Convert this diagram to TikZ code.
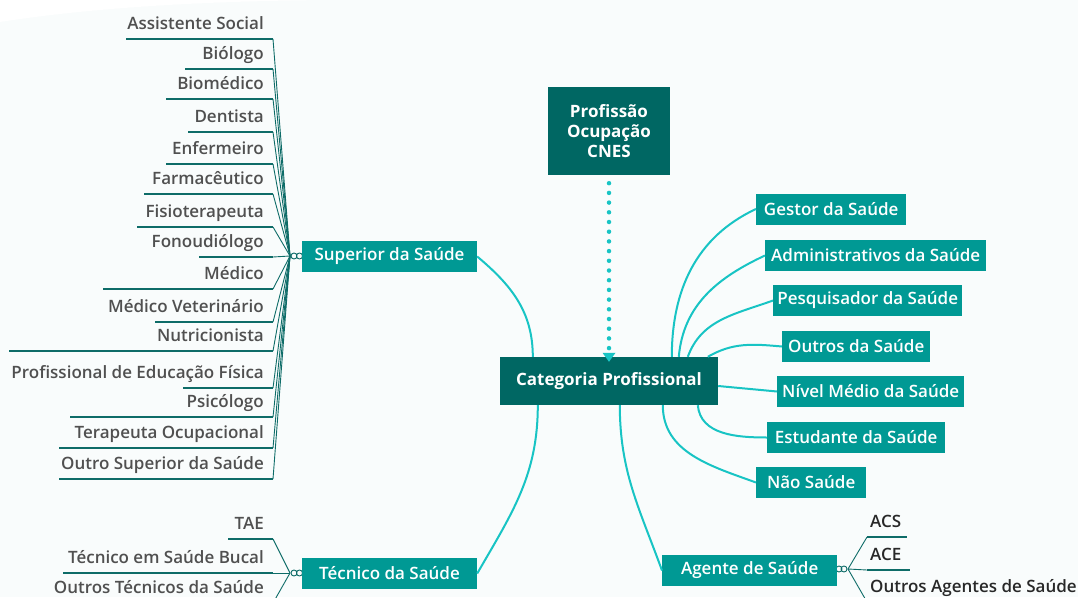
\documentclass[tikz,border=0pt]{standalone}
\usepackage{fontspec}
\setmainfont{Open Sans}
\IfFontExistsTF{Open Sans Semibold}
  {\newfontfamily\semib{Open Sans Semibold}}
  {\IfFontExistsTF{Open Sans SemiBold}
    {\newfontfamily\semib{Open Sans SemiBold}}
    {\newfontfamily\semib{Open Sans}}}
\usepackage{tikz}
\usetikzlibrary{arrows.meta}
\definecolor{bg}{RGB}{249, 252, 252}
\definecolor{deep}{RGB}{0, 103, 99}
\definecolor{box}{RGB}{0, 153, 148}
\definecolor{wirec}{RGB}{24, 196, 196}
\definecolor{twigc}{RGB}{14, 108, 104}
\definecolor{ink}{RGB}{80, 80, 80}
\definecolor{inkdark}{RGB}{40, 40, 40}
\newcommand{\labelfont}{\semib\fontsize{17}{20}\selectfont}

\begin{document}
\begin{tikzpicture}[x=1pt, y=1pt,
  hub/.style={fill=deep, text=white, font=\bfseries\fontsize{17}{20}\selectfont,
    align=center, inner sep=0pt},
  cat/.style={fill=box, text=white, font=\labelfont, inner sep=0pt,
    minimum height=31pt, minimum width=#1},
  leaf/.style={text=ink, font=\labelfont, inner sep=0pt},
  wire/.style={draw=wirec, line width=2pt},
  twig/.style={draw=twigc, line width=0.9pt},
  rule/.style={draw=twigc, line width=2.4pt}]

  % canvas
  \useasboundingbox (0,0) rectangle (1078,-597);
  \fill[bg] (0,0) rectangle (1078,-597);
  \fill[white] (0,0) -- (0,-22) .. controls (90,-8) and (200,-1) .. (330,0) -- cycle;

  % centre
  \node[hub, minimum width=122pt, minimum height=88pt] (prof) at (609,-131)
    {Profissão\\Ocupação\\CNES};
  \node[hub, minimum width=218pt, minimum height=48pt] (catp) at (609,-381)
    {Categoria Profissional};

  \draw[wirec, line width=4.5pt, line cap=round, dash pattern=on 0pt off 9.7pt,
    -{Triangle[width=13pt,length=9pt,line width=0pt]}]
    ([yshift=-8]prof.south) -- ([yshift=-5]catp.north);

  % left branches
  \coordinate (sknot) at (290,-256);
  \coordinate (tknot) at (290,-573);
  \foreach \txt/\yy/\xx [count=\i] in {
      Assistente Social/39/126, Biólogo/69/185, Biomédico/99/166,
      Dentista/132/188, Enfermeiro/164/166, Farmacêutico/194/144,
      Fisioterapeuta/227/137, Fonoudiólogo/257/199, Médico/289/103,
      Médico Veterinário/322/155, Nutricionista/351/9,
      Profissional de Educação Física/388/183, Psicólogo/417/70,
      Terapeuta Ocupacional/448/59, Outro Superior da Saúde/479/59} {
    \node[leaf, anchor=base east] (s\i) at (264,-\yy+10) {\txt};
    \coordinate (s\i e) at (273,-\yy);
    \draw[rule] (\xx,-\yy) -- (s\i e);
    \draw[twig] (s\i e) -- (sknot);
  }
  \foreach \txt/\yy/\xx [count=\i] in {
      TAE/539/228, Técnico em Saúde Bucal/573/63,
      Outros Técnicos da Saúde/603/50} {
    \node[leaf, anchor=base east] (t\i) at (264,-\yy+10) {\txt};
    \coordinate (t\i e) at (273,-\yy);
    \draw[rule] (\xx,-\yy) -- (t\i e);
    \draw[twig] (t\i e) -- (tknot);
  }
  \draw[twig, fill=bg] (294,-256) circle (3) (299.5,-256) circle (3);
  \draw[twig, fill=bg] (294,-573) circle (3) (299.5,-573) circle (3);

  \node[cat=175pt] (sup) at (389.5,-256.5) {Superior da Saúde};
  \node[cat=175pt] (tec) at (389.5,-573.5) {Técnico da Saúde};

  % right branches
  \node[cat=150pt, anchor=west] (gest) at (756,-209) {Gestor da Saúde};
  \node[cat=221pt, anchor=west] (adm) at (765,-255.5) {Administrativos da Saúde};
  \node[cat=189pt, anchor=west] (pesq) at (773,-300.5) {Pesquisador da Saúde};
  \node[cat=148pt, anchor=west] (outr) at (782,-346.5) {Outros da Saúde};
  \node[cat=187pt, anchor=west] (niv) at (777,-391.5) {Nível Médio da Saúde};
  \node[cat=178pt, anchor=west] (estu) at (767,-437.5) {Estudante da Saúde};
  \node[cat=110pt, anchor=west] (nao) at (756,-482.5) {Não Saúde};

  % agentes
  \coordinate (aknot) at (848,-569);
  \foreach \txt/\yy/\xx [count=\i] in {
      ACS/537/907, ACE/570/910, Outros Agentes de Saúde/602/1078} {
    \node[leaf, text=inkdark, anchor=base west] (a\i) at (870,-\yy+10) {\txt};
    \coordinate (a\i s) at (867,-\yy);
    \draw[rule] (a\i s) -- (\xx,-\yy);
    \draw[twig] (aknot) -- (a\i s);
  }
  \draw[twig, fill=bg] (844,-569) circle (3) (839,-569) circle (3);
  \node[cat=175pt, anchor=west] (agen) at (662,-570.5) {Agente de Saúde};

  % links
  \draw[wire] (sup.east) to[out=-40, in=90] ([xshift=33]catp.north west);
  \draw[wire] ([xshift=38]catp.south west) to[out=-90, in=60] (tec.east);
  \draw[wire] ([xshift=172]catp.north west) to[out=90, in=205] (gest.west);
  \draw[wire] ([xshift=179]catp.north west) to[out=85, in=205] (adm.west);
  \draw[wire] ([xshift=188]catp.north west) to[out=70, in=200] (pesq.west);
  \draw[wire] ([xshift=208]catp.north west) to[out=30, in=175] (outr.west);
  \draw[wire] ([yshift=-5]catp.east) -- (niv.west);
  \draw[wire] ([xshift=198]catp.south west) to[out=-85, in=180] (estu.west);
  \draw[wire] ([xshift=163]catp.south west) to[out=-90, in=160] (nao.west);
  \draw[wire] ([xshift=120]catp.south west) to[out=-90, in=110] (agen.west);

\end{tikzpicture}
\end{document}
